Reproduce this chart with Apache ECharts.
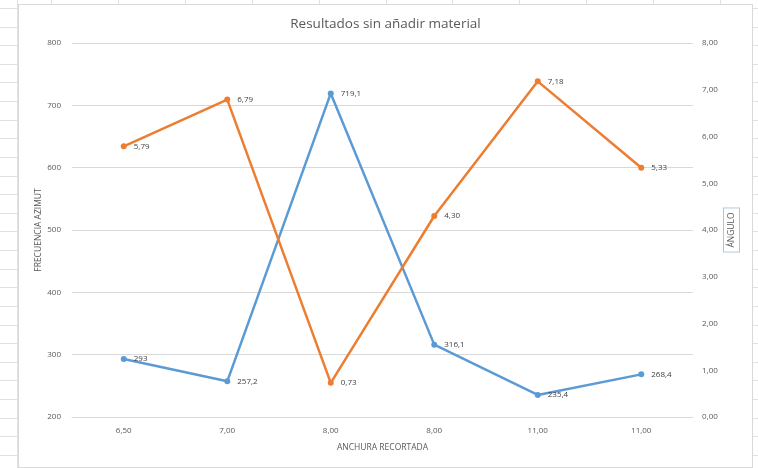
<!DOCTYPE html>
<html>
<head>
<meta charset="utf-8">
<script src="https://cdn.jsdelivr.net/npm/echarts@6/dist/echarts.min.js"></script>
<style>
  html, body { margin: 0; padding: 0; width: 758px; height: 468px; overflow: hidden; background: #ffffff; }
  #sheet { position: absolute; left: 0; top: 0; width: 758px; height: 468px; }
  .hl { position: absolute; height: 1px; background: #e1e1e1; }
  .vl { position: absolute; width: 1px; background: #e1e1e1; }
  #frame { position: absolute; left: 18px; top: 4px; width: 735px; height: 464px; box-sizing: border-box;
           border: 1px solid #d9d9d9; background: #ffffff; }
  #chart { position: absolute; left: 0; top: 0; width: 733px; height: 462px; }
</style>
</head>
<body>
<div id="sheet"></div>
<div id="frame"><div id="chart"></div></div>
<script>
// Category labels (ANCHURA RECORTADA)
const categories = ['6,50', '7,00', '8,00', '8,00', '11,00', '11,00'];
// FRECUENCIA AZIMUT (left axis)
const azimut = [293, 257.2, 719.1, 316.1, 235.4, 268.4];
// ÁNGULO (right axis)
const angulo = [5.79, 6.79, 0.73, 4.30, 7.18, 5.33];

// Spreadsheet cell lines around the chart object
(function () {
  const sheet = document.getElementById('sheet');
  for (let k = 0; k < 26; k++) {
    const y = Math.round(8 + 18.62 * k);
    const a = document.createElement('div');
    a.className = 'hl'; a.style.left = '0px'; a.style.width = '18px'; a.style.top = y + 'px';
    sheet.appendChild(a);
    const b = document.createElement('div');
    b.className = 'hl'; b.style.left = '753px'; b.style.width = '5px'; b.style.top = y + 'px';
    sheet.appendChild(b);
  }
  for (let k = 0; k < 11; k++) {
    const x = Math.round(51 + 66.9 * k);
    const c = document.createElement('div');
    c.className = 'vl'; c.style.left = x + 'px'; c.style.top = '0px'; c.style.height = '4px';
    sheet.appendChild(c);
  }
  const v = document.createElement('div');
  v.className = 'vl'; v.style.left = '17px'; v.style.top = '0px'; v.style.height = '468px';
  sheet.appendChild(v);
})();

const font = "'Open Sans', 'Liberation Sans', sans-serif";
const grey = '#595959';

const chart = echarts.init(document.getElementById('chart'), null, { renderer: 'canvas' });
chart.setOption({
  animation: false,
  backgroundColor: '#ffffff',
  title: {
    text: 'Resultados sin añadir material',
    left: 'center',
    top: 7,
    textStyle: { fontFamily: font, fontSize: 13.5, fontWeight: 'normal', color: grey }
  },
  grid: { left: 53, right: 59, top: 38, bottom: 50 },
  xAxis: {
    type: 'category',
    data: categories,
    boundaryGap: true,
    name: 'ANCHURA RECORTADA',
    nameLocation: 'middle',
    nameGap: 26,
    nameMoveOverlap: false,
    nameTextStyle: { fontFamily: font, fontSize: 8.5, color: grey },
    axisLine: { show: true, lineStyle: { color: '#d9d9d9', width: 1 } },
    axisTick: { show: false },
    axisLabel: { fontFamily: font, fontSize: 8, color: grey, margin: 10 },
    splitLine: { show: false }
  },
  yAxis: [
    {
      type: 'value',
      min: 200, max: 800, interval: 100,
      position: 'left',
      name: 'FRECUENCIA AZIMUT',
      nameLocation: 'middle',
      nameRotate: 90,
      nameGap: 29,
      nameMoveOverlap: false,
      nameTextStyle: { fontFamily: font, fontSize: 8.5, color: grey },
      axisLine: { show: false },
      axisTick: { show: false },
      axisLabel: { fontFamily: font, fontSize: 8, color: grey, margin: 11 },
      splitLine: { show: true, lineStyle: { color: '#d9d9d9', width: 1 } }
    },
    {
      type: 'value',
      min: 0, max: 8, interval: 1,
      position: 'right',
      name: 'ÁNGULO',
      nameLocation: 'middle',
      nameRotate: 90,
      nameGap: 31,
      nameMoveOverlap: false,
      nameTextStyle: {
        fontFamily: font, fontSize: 8.5, color: grey,
        borderColor: '#a9c4e6', borderWidth: 1, padding: [3, 4, 3, 4], backgroundColor: '#ffffff'
      },
      axisLine: { show: false },
      axisTick: { show: false },
      axisLabel: {
        fontFamily: font, fontSize: 8, color: grey, margin: 9,
        formatter: v => v.toFixed(2).replace('.', ',')
      },
      splitLine: { show: false }
    }
  ],
  series: [
    {
      name: 'FRECUENCIA AZIMUT',
      type: 'line',
      yAxisIndex: 0,
      data: azimut,
      color: '#5b9bd5',
      lineStyle: { width: 2.5, color: '#5b9bd5' },
      symbol: 'circle',
      symbolSize: 6,
      itemStyle: { color: '#5b9bd5' },
      label: {
        show: true, position: 'right', distance: 7,
        fontFamily: font, fontSize: 8, color: '#404040',
        formatter: p => String(p.value).replace('.', ',')
      },
      z: 3
    },
    {
      name: 'ÁNGULO',
      type: 'line',
      yAxisIndex: 1,
      data: angulo,
      color: '#ed7d31',
      lineStyle: { width: 2.5, color: '#ed7d31' },
      symbol: 'circle',
      symbolSize: 6,
      itemStyle: { color: '#ed7d31' },
      label: {
        show: true, position: 'right', distance: 7,
        fontFamily: font, fontSize: 8, color: '#404040',
        formatter: p => p.value.toFixed(2).replace('.', ',')
      },
      z: 4
    }
  ]
});
</script>
</body>
</html>
